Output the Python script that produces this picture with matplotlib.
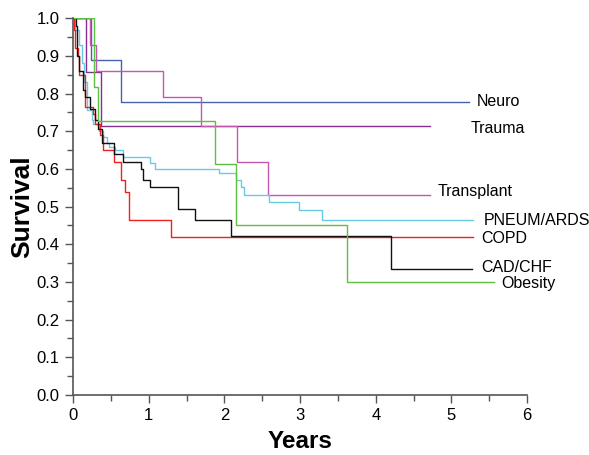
import numpy as np
import matplotlib.pyplot as plt

plt.rcParams['font.family'] = ['Liberation Sans', 'DejaVu Sans']

# step times (years) and survival after each step; last time = end of follow-up
neuro_t = [0, 0.24, 0.63, 5.23]
neuro_s = [1.0, 0.889, 0.778, 0.778]

trauma_t = [0, 0.17, 0.37, 4.72]
trauma_s = [1.0, 0.857, 0.714, 0.714]

transplant_t = [0, 0.23, 0.31, 1.19, 1.69, 2.16, 2.58, 4.72]
transplant_s = [1.0, 0.93, 0.86, 0.79, 0.714, 0.619, 0.53, 0.53]

pneum_t = [0, 0.026, 0.083, 0.115, 0.149, 0.181, 0.247, 0.268, 0.348, 0.40,
           0.445, 0.48, 0.555, 0.665, 1.018, 1.084, 1.93, 2.15, 2.22, 2.26,
           2.59, 2.99, 3.29, 5.29]
pneum_s = [1.0, 0.97, 0.93, 0.88, 0.83, 0.756, 0.73, 0.72, 0.70, 0.685,
           0.668, 0.659, 0.65, 0.632, 0.615, 0.601, 0.59, 0.57, 0.553, 0.53,
           0.513, 0.491, 0.464, 0.464]

copd_t = [0, 0.013, 0.026, 0.07, 0.08, 0.16, 0.27, 0.29, 0.35, 0.39, 0.54,
          0.63, 0.68, 0.74, 1.30, 5.28]
copd_s = [1.0, 0.968, 0.92, 0.90, 0.85, 0.765, 0.745, 0.72, 0.69, 0.65,
          0.617, 0.57, 0.54, 0.464, 0.42, 0.42]

cad_t = [0, 0.04, 0.057, 0.08, 0.128, 0.16, 0.225, 0.29, 0.334, 0.38, 0.546,
         0.665, 0.90, 0.93, 1.02, 1.39, 1.61, 2.09, 4.20, 5.27]
cad_s = [1.0, 0.98, 0.90, 0.86, 0.81, 0.79, 0.76, 0.73, 0.707, 0.668, 0.639,
         0.619, 0.60, 0.571, 0.551, 0.493, 0.464, 0.423, 0.333, 0.333]

obesity_t = [0, 0.28, 0.33, 1.88, 2.15, 3.62, 5.56]
obesity_s = [1.0, 0.818, 0.727, 0.613, 0.45, 0.30, 0.30]

names = ["Neuro", "Trauma", "Transplant", "PNEUM/ARDS", "COPD", "CAD/CHF", "Obesity"]
colors = ["#4462b0", "#833090", "#c458b0", "#66cbe3", "#f02020", "#111111", "#5cc040"]
times = [neuro_t, trauma_t, transplant_t, pneum_t, copd_t, cad_t, obesity_t]
survs = [neuro_s, trauma_s, transplant_s, pneum_s, copd_s, cad_s, obesity_s]
label_xy = [(5.34, 0.78), (5.25, 0.708), (4.82, 0.54), (5.42, 0.464),
            (5.40, 0.416), (5.39, 0.337), (5.66, 0.297)]

fig = plt.figure(figsize=(5.89, 4.55), dpi=100)
ax = fig.add_axes([0.124, 0.132, 0.771, 0.828])

for name, c, t, s, (lx, ly) in zip(names, colors, times, survs, label_xy):
    ax.step(t, s, where='post', color=c, lw=1.0)
    ax.text(lx, ly, name, fontsize=11.5, va='center', ha='left')

ax.set_xlim(0, 6)
ax.set_ylim(0, 1.0)
ax.set_xticks(np.arange(0, 7, 1))
ax.set_xticks(np.arange(0, 6.01, 0.5), minor=True)
ax.set_yticks(np.arange(0, 1.01, 0.1))
ax.set_yticks(np.arange(0, 1.01, 0.05), minor=True)
ax.set_yticklabels([f"{v:.1f}" for v in np.arange(0, 1.01, 0.1)])
ax.tick_params(labelsize=12, direction='out', length=6, width=1, color='#555555')
ax.tick_params(which='minor', direction='out', length=4, width=1, color='#555555')

for side in ['top', 'right']:
    ax.spines[side].set_visible(False)
for side in ['left', 'bottom']:
    ax.spines[side].set_color('#555555')
    ax.spines[side].set_linewidth(1.2)

ax.set_xlabel("Years", fontsize=17.5, fontweight='bold', labelpad=5)
ax.set_ylabel("Survival", fontsize=19, fontweight='bold', labelpad=2)

plt.savefig("out.png", dpi=100)
